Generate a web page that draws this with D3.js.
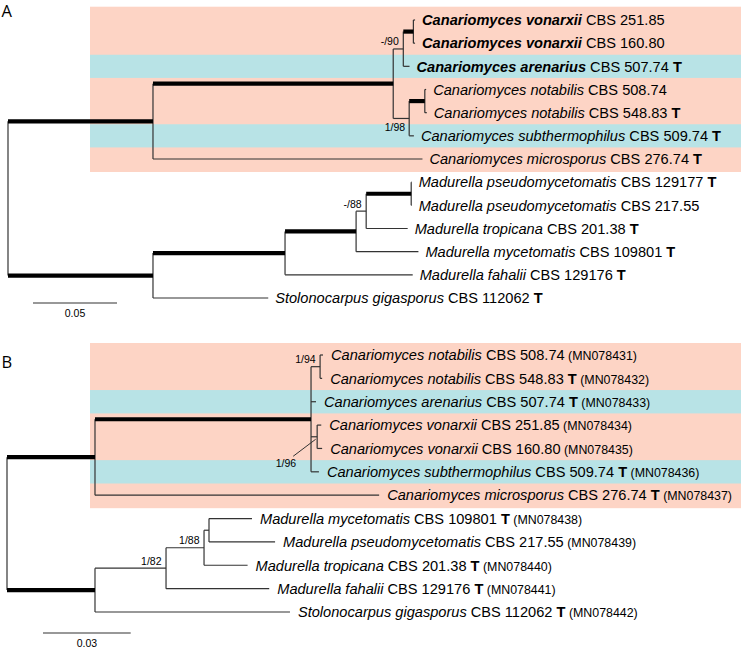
<!DOCTYPE html>
<html><head><meta charset="utf-8">
<script src="https://cdn.jsdelivr.net/npm/d3@7"></script>
<style>body{margin:0;background:#fff} svg{display:block}</style>
</head><body>
<svg id="c" width="756" height="653"></svg>
<script>
// ---------- Panel A (phylogeny, branch lengths in substitutions/site) ----------
const nodesA   = ["rootA","c1","c2","c3","vonPair","vonarxii251","vonarxii160","arenarius","c4","notPair","notabilis508","notabilis548","subthermo","microsporus","m1","m2","m3","m4","pseudoPair","pseudo129177","pseudo217","tropicana","mycetomatis","fahalii","stolono"];
const parentsA = ["","rootA","c1","c2","c3","vonPair","vonPair","c3","c2","c4","notPair","notPair","c4","c1","rootA","m1","m2","m3","m4","pseudoPair","pseudoPair","m4","m3","m2","m1"];
const lengthsA = [0,0.0863,0.1430,0.0060,0.0060,0.0010,0.0010,0.0037,0.0095,0.0093,0.0008,0.0012,0.0028,0.1604,0.0863,0.0786,0.0423,0.0060,0.0268,0.0003,0.0003,0.0247,0.0371,0.0760,0.0686];
const strongA  = ["c1","c2","vonPair","notPair","m1","m2","m3","pseudoPair"];
const tipsA    = ["vonarxii251","vonarxii160","arenarius","notabilis508","notabilis548","subthermo","microsporus","pseudo129177","pseudo217","tropicana","mycetomatis","fahalii","stolono"];
const speciesA = ["Canariomyces vonarxii","Canariomyces vonarxii","Canariomyces arenarius","Canariomyces notabilis","Canariomyces notabilis","Canariomyces subthermophilus","Canariomyces microsporus","Madurella pseudomycetomatis","Madurella pseudomycetomatis","Madurella tropicana","Madurella mycetomatis","Madurella fahalii","Stolonocarpus gigasporus"];
const strainA  = ["CBS 251.85","CBS 160.80","CBS 507.74","CBS 508.74","CBS 548.83","CBS 509.74","CBS 276.74","CBS 129177","CBS 217.55","CBS 201.38","CBS 109801","CBS 129176","CBS 112062"];
const typeA    = [false,false,true,false,true,true,true,true,false,true,true,true,true];
const newSpA   = [true,true,true,false,false,false,false,false,false,false,false,false,false];
const supportNodesA  = ["c3","c4","m4"];
const supportValuesA = ["-/90","1/98","-/88"];
const blueRowsA = ["arenarius","subthermo"];
const scaleValA = 0.05;

// ---------- Panel B ----------
const nodesB   = ["rootB","b1","b2","bNotPair","bNot508","bNot548","bAren","bVonPair","bVon251","bVon160","bSub","bMicro","bm1","bm2","bm3","bm4","bMyc","bPseudo","bTrop","bFah","bStol"];
const parentsB = ["","rootB","b1","b2","bNotPair","bNotPair","b2","b2","bVonPair","bVonPair","b2","b1","rootB","bm1","bm2","bm3","bm4","bm4","bm3","bm2","bm1"];
const lengthsB = [0,0.0301,0.0739,0.0031,0.0010,0.0007,0.0017,0.0021,0.0014,0.0017,0.0027,0.0972,0.0301,0.0243,0.0130,0.0017,0.0147,0.0226,0.0149,0.0353,0.0667];
const strongB  = ["b1","b2","bm1"];
const tipsB    = ["bNot508","bNot548","bAren","bVon251","bVon160","bSub","bMicro","bMyc","bPseudo","bTrop","bFah","bStol"];
const speciesB = ["Canariomyces notabilis","Canariomyces notabilis","Canariomyces arenarius","Canariomyces vonarxii","Canariomyces vonarxii","Canariomyces subthermophilus","Canariomyces microsporus","Madurella mycetomatis","Madurella pseudomycetomatis","Madurella tropicana","Madurella fahalii","Stolonocarpus gigasporus"];
const strainB  = ["CBS 508.74","CBS 548.83","CBS 507.74","CBS 251.85","CBS 160.80","CBS 509.74","CBS 276.74","CBS 109801","CBS 217.55","CBS 201.38","CBS 129176","CBS 112062"];
const typeB    = [false,true,true,false,false,true,true,true,false,true,true,true];
const accB     = ["MN078431","MN078432","MN078433","MN078434","MN078435","MN078436","MN078437","MN078438","MN078439","MN078440","MN078441","MN078442"];
const supportNodesB  = ["bNotPair","bVonPair","bm3","bm2"];
const supportValuesB = ["1/94","1/96","1/88","1/82"];
const blueRowsB = ["bAren","bSub"];
const scaleValB = 0.03;

const svg = d3.select("#c");
const FONT = "'Liberation Sans', Arial, Helvetica, sans-serif";
const PINK = "#fdd4c5", BLUE = "#b8e3e6", LINE = "#333";

function build(nodes, parents, lengths, tips, ys){
  const table = nodes.map((id,i)=>({id, parent: parents[i], len: lengths[i]}));
  const root = d3.stratify().id(d=>d.id).parentId(d=>d.parent)(table);
  root.eachBefore(n=>{ n.dist = n.parent ? n.parent.dist + n.data.len : 0; });
  root.eachAfter(n=>{
    if(n.children){ n.py = (n.children[0].py + n.children[n.children.length-1].py)/2; }
    else n.py = ys(n.id);
  });
  return root;
}

function drawPanel(o){
  const g = svg.append("g");
  const ys = d3.scalePoint().domain(o.tips).range(o.yRange);
  const xs = d3.scaleLinear().domain([0, o.scaleVal]).range([o.x0, o.x0 + o.scalePx]);
  const step = ys.step();
  // colored background bands for Canariomyces clade
  const canTips = o.tips.slice(0,7);
  g.append("rect").attr("x",90).attr("width",651)
    .attr("y", ys(canTips[0]) - o.padTop).attr("height", ys(canTips[6]) - ys(canTips[0]) + o.padTop + 13)
    .attr("fill", PINK);
  g.selectAll("rect.blue").data(o.blue).join("rect").attr("class","blue")
    .attr("x",90).attr("width",651)
    .attr("y", d=>ys(d)-step/2).attr("height", step).attr("fill", BLUE);

  const root = build(o.nodes, o.parents, o.lengths, o.tips, ys);
  const all = root.descendants();
  const byId = new Map(all.map(n=>[n.id,n]));
  // vertical connectors
  g.selectAll("line.v").data(all.filter(n=>n.children)).join("line").attr("class","v")
    .attr("x1", n=>xs(n.dist)).attr("x2", n=>xs(n.dist))
    .attr("y1", n=>n.children[0].py).attr("y2", n=>n.children[n.children.length-1].py)
    .attr("stroke", LINE).attr("stroke-width",1.2);
  // horizontal branches
  g.selectAll("line.h").data(all.filter(n=>n.parent)).join("line").attr("class","h")
    .attr("x1", n=>xs(n.parent.dist)).attr("x2", n=>xs(n.dist))
    .attr("y1", n=>n.py).attr("y2", n=>n.py)
    .attr("stroke", n=>o.strong.includes(n.id) ? "#000" : LINE)
    .attr("stroke-width", n=>o.strong.includes(n.id) ? 4.2 : 1.2);

  // tip labels
  o.tips.forEach((id,i)=>{
    const n = byId.get(id);
    const t = g.append("text").attr("x", xs(n.dist) + o.labOff).attr("y", n.py).attr("dy","0.36em")
      .attr("font-family", FONT).attr("font-size", 14.6).attr("fill","#000");
    t.append("tspan").attr("font-style","italic").attr("font-weight", o.bold && o.bold[i] ? "bold" : "normal").text(o.species[i]);
    t.append("tspan").text(" " + o.strain[i]);
    if(o.type[i]) t.append("tspan").attr("font-weight","bold").text(" T");
    if(o.acc) t.append("tspan").attr("font-size",12.4).text(" (" + o.acc[i] + ")");
  });

  // support values
  o.supNodes.forEach((id,i)=>{
    const n = byId.get(id);
    const x = xs(n.dist), y = n.py;
    const pos = o.supPos[i];
    const txt = g.append("text").attr("font-family",FONT).attr("font-size",10.5).attr("text-anchor","end").attr("fill","#000").text(o.supVals[i]);
    if(pos === "below"){ txt.attr("x", x-4).attr("y", y+12.5); }
    else if(pos === "leader"){
      txt.attr("x", x-21).attr("y", y+30);
      g.append("line").attr("x1", x-24).attr("y1", y+19.5).attr("x2", x-1.5).attr("y2", y+2.5)
        .attr("stroke", LINE).attr("stroke-width",1);
    }
    else { txt.attr("x", x-4.5).attr("y", y-3.5); }
  });

  // scale bar
  const w = xs(o.scaleVal) - xs(0);
  g.append("line").attr("x1", o.sbX).attr("x2", o.sbX + w).attr("y1", o.sbY).attr("y2", o.sbY)
    .attr("stroke", LINE).attr("stroke-width",1.2);
  g.append("text").attr("x", o.sbX + w/2).attr("y", o.sbY + 14).attr("text-anchor","middle")
    .attr("font-family",FONT).attr("font-size",10.5).text(String(o.scaleVal));

  // panel letter
  g.append("text").attr("x",1.5).attr("y", o.letterY).attr("font-family","'Open Sans', sans-serif")
    .attr("font-size",16.5).text(o.letter);
}

drawPanel({nodes:nodesA, parents:parentsA, lengths:lengthsA, strong:strongA, tips:tipsA,
  species:speciesA, strain:strainA, type:typeA, bold:newSpA, acc:null,
  supNodes:supportNodesA, supVals:supportValuesA, supPos:["above","below","above"],
  blue:blueRowsA, yRange:[20,298], x0:8, scaleVal:scaleValA, scalePx:84, labOff:7, padTop:13.3,
  sbX:33, sbY:303, letter:"A", letterY:17});

drawPanel({nodes:nodesB, parents:parentsB, lengths:lengthsB, strong:strongB, tips:tipsB,
  species:speciesB, strain:strainB, type:typeB, bold:null, acc:accB,
  supNodes:supportNodesB, supVals:supportValuesB, supPos:["above","leader","above","above"],
  blue:blueRowsB, yRange:[355,612], x0:7, scaleVal:scaleValB, scalePx:87.7, labOff:8, padTop:12,
  sbX:43, sbY:633, letter:"B", letterY:368});
</script>
</body></html>
